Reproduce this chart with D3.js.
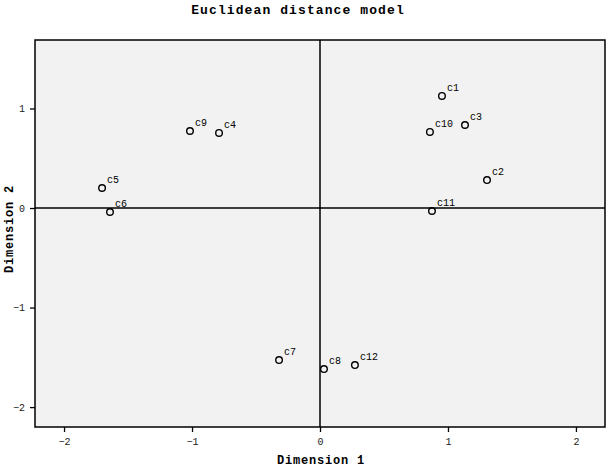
<!DOCTYPE html>
<html><head><meta charset="utf-8">
<script src="https://cdn.jsdelivr.net/npm/d3@7"></script>
<style>body{margin:0;background:#fff}</style>
</head><body>
<script>
const labels = ["c1","c2","c3","c4","c5","c6","c7","c8","c9","c10","c11","c12"];
const dim1 = [0.953,1.305,1.133,-0.789,-1.703,-1.641,-0.320,0.031,-1.016,0.859,0.875,0.273];
const dim2 = [1.126,0.281,0.834,0.754,0.201,-0.040,-1.528,-1.618,0.774,0.764,-0.030,-1.578];
const xTicks = [-2,-1,0,1,2];
const yTicks = [-2,-1,0,1];

const W=612,H=473;
const svg=d3.select("body").append("svg").attr("width",W).attr("height",H);
const L=35,R=605,T=40,B=427;
const x=d3.scaleLinear().domain([-2.227,2.227]).range([L,R]);
const y=d3.scaleLinear().domain([-2.2,1.688]).range([B,T]);
const mono="'Liberation Mono','DejaVu Sans Mono',monospace";

svg.append("rect").attr("x",L).attr("y",T).attr("width",R-L).attr("height",B-T)
  .attr("fill","#f2f2f2").attr("stroke","none");

svg.append("line").attr("x1",x(0)).attr("x2",x(0)).attr("y1",T).attr("y2",B).attr("stroke","#000").attr("stroke-width",1.5);
svg.append("line").attr("x1",L).attr("x2",R).attr("y1",y(0)).attr("y2",y(0)).attr("stroke","#000").attr("stroke-width",1.5);

svg.append("rect").attr("x",L).attr("y",T).attr("width",R-L).attr("height",B-T)
  .attr("fill","none").attr("stroke","#000").attr("stroke-width",1.5);

const xa=svg.append("g").attr("transform",`translate(0,${B})`)
  .call(d3.axisBottom(x).tickValues(xTicks).tickSize(5).tickPadding(6).tickFormat(d3.format("d")));
const ya=svg.append("g").attr("transform",`translate(${L},0)`)
  .call(d3.axisLeft(y).tickValues(yTicks).tickSize(5).tickPadding(5).tickFormat(d3.format("d")));
[xa,ya].forEach(a=>{
  a.select(".domain").remove();
  a.selectAll("line").attr("stroke","#000").attr("stroke-width",1.3);
  a.selectAll("text").attr("font-family",mono).attr("font-size",10).attr("fill","#222");
});

const pts=svg.append("g");
labels.forEach((lab,i)=>{
  pts.append("circle").attr("cx",x(dim1[i])).attr("cy",y(dim2[i])).attr("r",3.3)
    .attr("fill","none").attr("stroke","#000").attr("stroke-width",1.4);
  pts.append("text").attr("x",x(dim1[i])+5).attr("y",y(dim2[i])-5)
    .attr("font-family",mono).attr("font-size",10).attr("fill","#000").text(lab);
});

svg.append("text").attr("x",298).attr("y",14).attr("text-anchor","middle")
  .attr("font-family",mono).attr("font-weight","bold").attr("font-size",13).attr("letter-spacing",1.1).text("Euclidean distance model");
svg.append("text").attr("x",321).attr("y",464).attr("text-anchor","middle")
  .attr("font-family",mono).attr("font-weight","bold").attr("font-size",12).attr("letter-spacing",0.8).text("Dimension 1");
svg.append("text").attr("transform",`translate(13,${229}) rotate(-90)`).attr("text-anchor","middle")
  .attr("font-family",mono).attr("font-weight","bold").attr("font-size",12).attr("letter-spacing",0.8).text("Dimension 2");
</script>
</body></html>
